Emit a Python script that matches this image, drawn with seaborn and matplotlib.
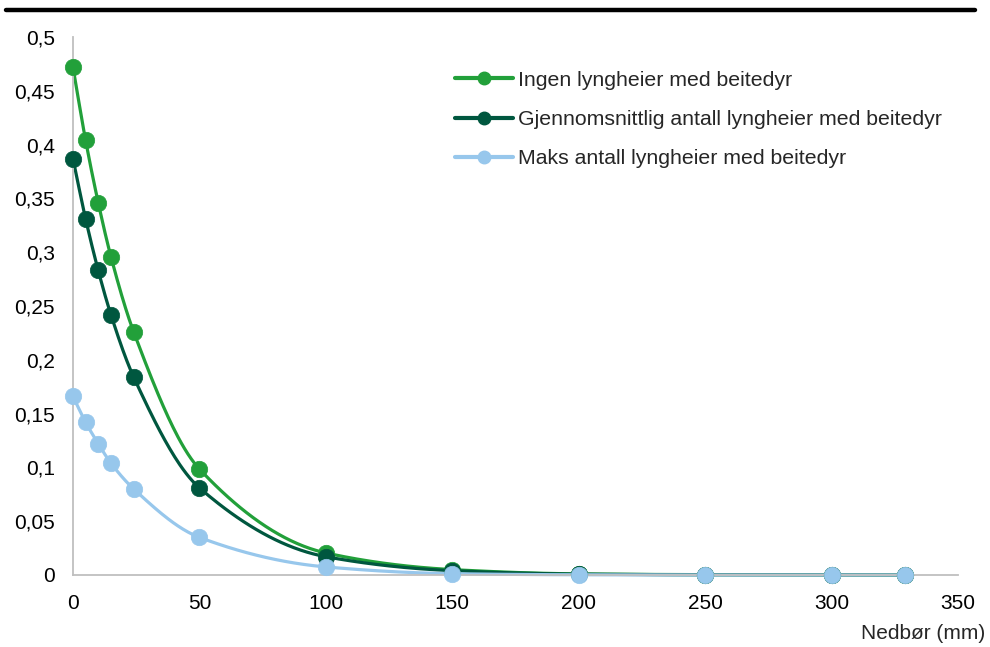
import numpy as np
import pandas as pd
import matplotlib
matplotlib.use("Agg")
import matplotlib.pyplot as plt
import seaborn as sns
from matplotlib.lines import Line2D

# ---- data ----
nedbor = [0, 5, 10, 15, 24, 50, 100, 150, 200, 250, 300, 329]
ingen = [0.472, 0.404, 0.346, 0.296, 0.226, 0.0985, 0.0205, 0.005, 0.001, 0.0003, 0.0001, 0.0]
gjennomsnitt = [0.387, 0.331, 0.283, 0.242, 0.184, 0.081, 0.017, 0.004, 0.0008, 0.0002, 0.0001, 0.0]
maks = [0.166, 0.142, 0.122, 0.104, 0.080, 0.035, 0.0075, 0.0012, 0.0002, 0.0, 0.0, 0.0]

series_names = ["Ingen lyngheier med beitedyr",
                "Gjennomsnittlig antall lyngheier med beitedyr",
                "Maks antall lyngheier med beitedyr"]
series_values = [ingen, gjennomsnitt, maks]
colors = ["#22a03a", "#00573f", "#97c7ec"]

y_ticks = [0, 0.05, 0.1, 0.15, 0.2, 0.25, 0.3, 0.35, 0.4, 0.45, 0.5]
y_tick_labels = ["0", "0,05", "0,1", "0,15", "0,2", "0,25", "0,3", "0,35", "0,4", "0,45", "0,5"]
x_ticks = [0, 50, 100, 150, 200, 250, 300, 350]
x_label = "Nedbør (mm)"


def smooth_curve(x, y, n=40):
    """Monotone cubic (Fritsch-Carlson) rendering of a smoothed line."""
    x = np.asarray(x, float)
    y = np.asarray(y, float)
    h = np.diff(x)
    d = np.diff(y) / h
    m = np.zeros_like(y)
    m[0], m[-1] = d[0], d[-1]
    for i in range(1, len(y) - 1):
        if d[i - 1] * d[i] <= 0:
            m[i] = 0
        else:
            w1 = 2 * h[i] + h[i - 1]
            w2 = h[i] + 2 * h[i - 1]
            m[i] = (w1 + w2) / (w1 / d[i - 1] + w2 / d[i])
    xs, ys = [], []
    for i in range(len(x) - 1):
        t = np.linspace(0, 1, n, endpoint=False)
        h00 = 2 * t**3 - 3 * t**2 + 1
        h10 = t**3 - 2 * t**2 + t
        h01 = -2 * t**3 + 3 * t**2
        h11 = t**3 - t**2
        xs.append(x[i] + t * h[i])
        ys.append(h00 * y[i] + h10 * h[i] * m[i] + h01 * y[i + 1] + h11 * h[i] * m[i + 1])
    xs.append([x[-1]])
    ys.append([y[-1]])
    return np.concatenate(xs), np.concatenate(ys)


sns.set_theme(style="white")
plt.rcParams["font.family"] = ["Liberation Sans", "DejaVu Sans"]

fig = plt.figure(figsize=(9.9, 6.47), dpi=100)
ax = fig.add_axes([0.0737, 0.1113, 0.894, 0.8315])

for name, vals, col in zip(series_names, series_values, colors):
    sx, sy = smooth_curve(nedbor, vals)
    line_df = pd.DataFrame({"x": sx, "y": sy})
    sns.lineplot(data=line_df, x="x", y="y", ax=ax, color=col, linewidth=2.3,
                 sort=False, estimator=None, clip_on=False)
    pt_df = pd.DataFrame({"x": nedbor, "y": vals})
    sns.scatterplot(data=pt_df, x="x", y="y", ax=ax, color=col, s=140,
                    edgecolor=col, linewidth=0.5, clip_on=False, zorder=3)

ax.set_xlim(0, 350)
ax.set_ylim(0, 0.5)
ax.set_yticks(y_ticks)
ax.set_yticklabels(y_tick_labels)
ax.set_xticks(x_ticks)
ax.set_xticklabels([str(v) for v in x_ticks])
ax.tick_params(axis="both", length=0, labelsize=15, colors="#000000")
ax.tick_params(axis="y", pad=13)
ax.tick_params(axis="x", pad=14)
ax.set_xlabel("")
ax.set_ylabel("")

for s in ["top", "right"]:
    ax.spines[s].set_visible(False)
for s in ["left", "bottom"]:
    ax.spines[s].set_color("#bfbfbf")
    ax.spines[s].set_linewidth(1.3)

fig.text(0.995, 0.006, x_label, ha="right", va="bottom", fontsize=15)

handles = [Line2D([0], [0], color=c, lw=3, marker="o", markersize=9) for c in colors]
leg = ax.legend(handles, series_names, loc="upper left",
                bbox_to_anchor=(0.422, 0.953), frameon=False, fontsize=15.3,
                handlelength=2.75, handletextpad=0.2, labelspacing=0.95,
                borderaxespad=0.0)

# thick rule at the top of the figure
fig.add_artist(Line2D([0.006, 0.985], [0.984, 0.984], color="black", lw=3.2,
                      transform=fig.transFigure))

fig.savefig("out.png", dpi=100)
